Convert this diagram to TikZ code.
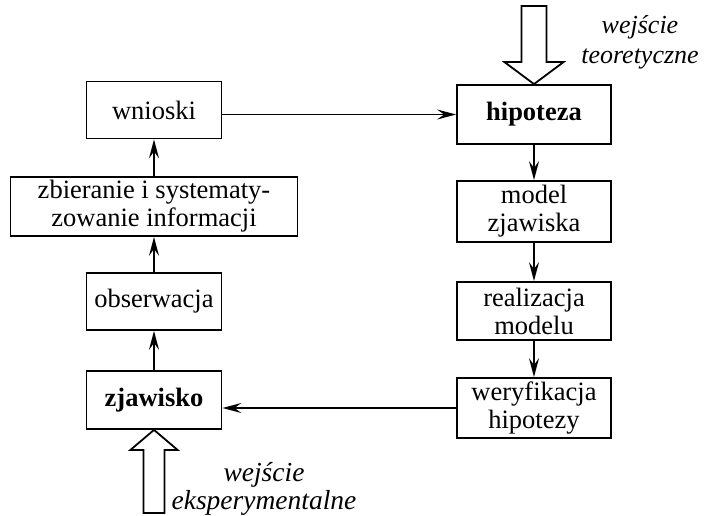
\documentclass[tikz,border=0pt]{standalone}
\usepackage{fontspec}
\setmainfont{Liberation Serif}
\usetikzlibrary{arrows.meta}

\tikzstyle{box} = [draw,line width=1.8pt,align=center,minimum height=57pt,inner sep=2pt,font=\fontsize{26.5}{28}\selectfont]
\tikzstyle{boxl} = [box,minimum width=135pt]
\tikzstyle{boxr} = [box,minimum width=154pt,minimum height=59pt]
\tikzstyle{arrow} = [line width=1.7pt,-{Stealth[length=19pt,width=10pt,inset=7pt]}]
\tikzstyle{input} = [line width=1.8pt,line join=miter]
\tikzstyle{inlabel} = [align=center,font=\fontsize{26}{30}\selectfont\itshape]

\begin{document}
\begin{tikzpicture}[x=1pt,y=1pt]
\useasboundingbox (0,0) rectangle (705,515);

% Left column
\node [boxl] (wnioski) at (154,405) {wnioski};
\node [box,minimum width=287pt,minimum height=59pt] (zbieranie) at (154,308.5) {zbieranie i systematy-\\zowanie informacji};
\node [boxl] (obserwacja) at (154,213.5) {obserwacja};
\node [boxl,minimum height=58pt] (zjawisko) at (154,115) {\textbf{zjawisko}};

% Right column
\node [boxr] (hipoteza) at (534,400.5) {\textbf{hipoteza}};
\node [boxr,minimum height=61pt] (model) at (534,303.5) {model\\zjawiska};
\node [boxr,minimum height=58pt] (realizacja) at (534,204) {realizacja\\modelu};
\node [boxr,minimum height=60pt] (weryfikacja) at (534,107) {weryfikacja\\hipotezy};

% arrows
\draw [arrow] (zjawisko) -- (obserwacja);
\draw [arrow] (obserwacja) -- (zbieranie);
\draw [arrow] (zbieranie) -- (wnioski);
\draw [arrow] (wnioski.east |- hipoteza.west) -- (hipoteza.west);
\draw [arrow] (hipoteza) -- (model);
\draw [arrow] (model) -- (realizacja);
\draw [arrow] (realizacja) -- (weryfikacja);
\draw [arrow] (weryfikacja.west) -- (weryfikacja.west -| zjawisko.east);

% theoretical input
\draw [input] (hipoteza.north) -- ++(-29.5,22) -- ++(17,0) -- ++(0,56) -- ++(25,0)
  -- ++(0,-56) -- ++(17,0) -- cycle;
\node [inlabel] (teor) at (640,473) {wejście\\teoretyczne};

% experimental input
\draw [input] (zjawisko.south) -- ++(-23.5,-20) -- ++(13,0) -- ++(0,-63) -- ++(21,0)
  -- ++(0,63) -- ++(13,0) -- cycle;
\node [inlabel,font=\fontsize{27.5}{28}\selectfont\itshape] (eksp) at (264,26) {wejście\\eksperymentalne};

\end{tikzpicture}
\end{document}
